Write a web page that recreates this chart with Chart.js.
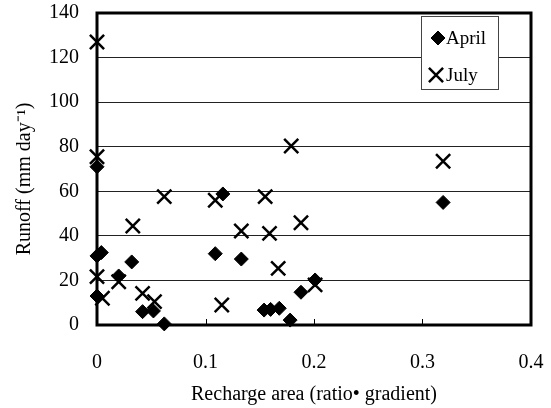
<!DOCTYPE html>
<html>
<head>
<meta charset="utf-8">
<script src="https://cdn.jsdelivr.net/npm/chart.js@4/dist/chart.umd.min.js"></script>
<style>
html,body{margin:0;padding:0;background:#fff;}
#wrap{width:551px;height:408px;}
</style>
</head>
<body>
<div id="wrap"><canvas id="c" width="551" height="408"></canvas></div>
<script>
// ---- data ----
const seriesNames = ['April', 'July'];
const aprilX = [0, 0, 0.004, 0, 0.02, 0.032, 0.042, 0.052, 0.062, 0.109, 0.116, 0.133, 0.154, 0.160, 0.168, 0.178, 0.188, 0.201, 0.319];
const aprilY = [71, 31, 32.5, 13, 22, 28.3, 6, 6.3, 0.5, 32, 58.8, 29.6, 6.7, 7, 7.5, 2.2, 14.7, 20.2, 55];
const julyX = [0, 0, 0, 0.005, 0.02, 0.033, 0.042, 0.053, 0.062, 0.109, 0.115, 0.133, 0.155, 0.159, 0.167, 0.179, 0.188, 0.201, 0.319];
const julyY = [127, 75.5, 21.7, 12, 19.4, 44.4, 14.2, 10.5, 57.6, 56, 9, 42.2, 57.6, 41.1, 25.4, 80.3, 45.9, 18, 73.5];
const xTickLabels = ['0', '0.1', '0.2', '0.3', '0.4'];
const yTickLabels = ['0', '20', '40', '60', '80', '100', '120', '140'];
const xTitle = 'Recharge area (ratio\u2022 gradient)';
const yTitle = 'Runoff (mm day\u207B\u00B9)';

const FONT = "'Liberation Serif', 'Times New Roman', serif";

const toPts = (xs, ys) => xs.map((x, i) => ({x: x, y: ys[i]}));

const framePlugin = {
  id: 'frame',
  afterDatasetsDraw(chart) {
    const {ctx, chartArea: ca, scales} = chart;
    ctx.save();
    ctx.strokeStyle = '#000';
    ctx.lineWidth = 1;
    scales.x.ticks.forEach(t => {
      const px = Math.round(scales.x.getPixelForValue(t.value)) + 0.5;
      ctx.beginPath();
      ctx.moveTo(px, ca.bottom);
      ctx.lineTo(px, ca.bottom - 6);
      ctx.stroke();
    });
    ctx.lineWidth = 3;
    ctx.strokeRect(ca.left, ca.top, ca.right - ca.left, ca.bottom - ca.top);
    ctx.restore();
  },
  afterDraw(chart) {
    const {ctx, chartArea: ca} = chart;
    const bx = ca.right - 110, by = ca.top + 3, bw = 77, bh = 73;
    ctx.save();
    ctx.fillStyle = '#fff';
    ctx.fillRect(bx, by, bw, bh);
    ctx.strokeStyle = '#444';
    ctx.lineWidth = 1;
    ctx.strokeRect(bx + 0.5, by + 0.5, bw, bh);
    ctx.font = '19px ' + FONT;
    ctx.textBaseline = 'middle';
    ctx.fillStyle = '#000';
    const rows = [22, 59];
    chart.data.datasets.forEach((ds, i) => {
      const cy = by + rows[i];
      ctx.save();
      ctx.fillStyle = '#000';
      ctx.strokeStyle = '#000';
      ctx.lineWidth = ds.borderWidth;
      Chart.helpers.drawPoint(ctx, {pointStyle: ds.pointStyle, radius: ds.pointRadius, rotation: 0, borderWidth: ds.borderWidth}, bx + (i === 0 ? 17 : 15), cy);
      ctx.restore();
      ctx.fillText(ds.label, bx + 25, cy + 1);
    });
    ctx.restore();
  }
};

new Chart(document.getElementById('c'), {
  type: 'scatter',
  data: {
    datasets: [
      {label: seriesNames[0], data: toPts(aprilX, aprilY), pointStyle: 'rectRot', pointRadius: 7, pointHoverRadius: 7,
       backgroundColor: '#000', borderColor: '#000', borderWidth: 1, clip: false},
      {label: seriesNames[1], data: toPts(julyX, julyY), pointStyle: 'crossRot', pointRadius: 10, pointHoverRadius: 10,
       backgroundColor: '#000', borderColor: '#000', borderWidth: 2.5, clip: false}
    ]
  },
  options: {
    responsive: false,
    animation: false,
    events: [],
    layout: {padding: {top: 13, right: 20, left: 0, bottom: 0}},
    plugins: {legend: {display: false}, tooltip: {enabled: false}},
    scales: {
      x: {
        type: 'linear', min: 0, max: 0.4,
        afterFit(s) { s.height = 83; s.paddingLeft = 0; s.paddingRight = 0; },
        grid: {display: false, drawTicks: false},
        border: {display: false},
        ticks: {stepSize: 0.1, padding: 26, color: '#000', font: {family: FONT, size: 20},
                callback: (v, i) => xTickLabels[i]},
        title: {display: true, text: xTitle, color: '#000', font: {family: FONT, size: 20}, padding: {top: 0, bottom: 1}}
      },
      y: {
        type: 'linear', min: 0, max: 140,
        afterFit(s) { s.width = 97; s.paddingTop = 0; s.paddingBottom = 0; },
        grid: {color: '#222', lineWidth: 1, drawTicks: false},
        border: {display: false},
        ticks: {stepSize: 20, padding: 18, color: '#000', font: {family: FONT, size: 20},
                callback: (v, i) => yTickLabels[i]},
        title: {display: true, text: yTitle + '    ', color: '#000', font: {family: FONT, size: 20}, padding: {top: 13, bottom: 0}}
      }
    }
  },
  plugins: [framePlugin]
});
</script>
</body>
</html>
